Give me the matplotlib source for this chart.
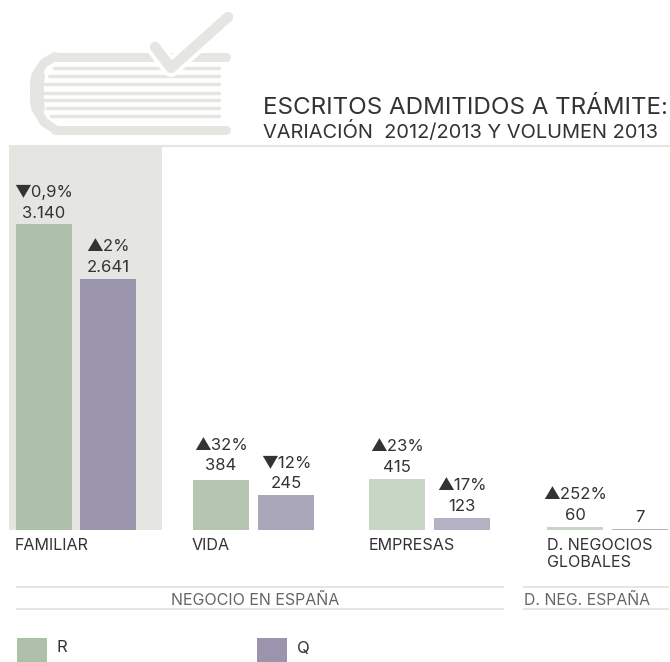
import matplotlib
matplotlib.use("Agg")
import matplotlib.pyplot as plt
from matplotlib.patches import Rectangle

plt.rcParams['font.family'] = ['Inter', 'DejaVu Sans']

categorias = ["FAMILIAR", "VIDA", "EMPRESAS", "D. NEGOCIOS\nGLOBALES"]
r_valores = ["3.140", "384", "415", "60"]
q_valores = ["2.641", "245", "123", "7"]
r_variacion = ["▼0,9%", "▲32%", "▲23%", "▲252%"]
q_variacion = ["▲2%", "▼12%", "▲17%", ""]
# alturas: el grafico original no es lineal con las etiquetas
r_alturas = [306, 50, 51, 3]
q_alturas = [251, 35, 12, 1]
r_colores = ["#aebfaa", "#b6c5b0", "#c6d5c4", "#c6d5c4"]
q_colores = ["#9a95ac", "#aba7bb", "#b6b2c6", "#b6b2c6"]

texto = "#333333"
gris = "#e5e6e1"
ancho = 56
x_r = [44, 221, 397, 575]
x_q = [108, 286, 462, 640]
x_cat = [15, 192, 369, 547]
# ajuste de etiquetas, en la imagen no estan todas a la misma distancia
r_ajuste = [-1, 2.5, 0, 0]
q_ajuste = [0, 0, 0, 0]

fig = plt.figure(figsize=(6.7, 6.62), dpi=100)

# capa en pixeles para icono, titulo y leyenda
bg = fig.add_axes([0, 0, 1, 1])
bg.set_xlim(0, 670)
bg.set_ylim(662, 0)
bg.axis("off")

# icono del libro
bg.plot([226, 55], [56.5, 56.5], color=gris, lw=6.5, solid_capstyle="round")
bg.plot([226, 55], [129.5, 129.5], color=gris, lw=6.5, solid_capstyle="round")
bg.plot([55, 44, 38, 34.5, 34.5, 38, 44, 55], [56.5, 63, 72, 84, 100, 112, 122, 129.5], color=gris, lw=6.5,
        solid_capstyle="round", solid_joinstyle="round")
bg.plot([38, 37, 37, 38], [76, 84, 100, 108], color=gris, lw=10, solid_capstyle="round")
for yl, xl in zip([68, 76, 84, 92.5, 100, 108, 116], [54, 49, 45, 44, 45, 47, 51]):
    bg.plot([xl, 219], [yl, yl], color=gris, lw=2.4, solid_capstyle="round")
bg.plot([155, 171, 228], [47, 68, 17], color="white", lw=13, solid_capstyle="round", solid_joinstyle="round")
bg.plot([155, 171, 228], [47, 68, 17], color=gris, lw=7.5, solid_capstyle="round", solid_joinstyle="round")

# titulo
bg.text(263, 108, "ESCRITOS ADMITIDOS A TRÁMITE:", fontsize=17.4, color=texto, va="center")
bg.text(263, 131, "VARIACIÓN  2012/2013 Y VOLUMEN 2013", fontsize=14.4, color=texto, va="center")
bg.plot([162, 670], [146, 146], color=gris, lw=1.6)

# panel gris de FAMILIAR
bg.add_patch(Rectangle((9, 145), 153, 385, color=gris, lw=0))

# barras
ax = fig.add_axes([0, (662 - 530) / 662, 1, 530 / 662])
ax.set_xlim(0, 670)
ax.set_ylim(0, 530)
ax.axis("off")
ax.patch.set_alpha(0)
ax.bar(x_r, r_alturas, width=ancho, color=r_colores)
ax.bar(x_q, q_alturas, width=ancho, color=q_colores)

for xs, alts, vals, varis, aj in [(x_r, r_alturas, r_valores, r_variacion, r_ajuste),
                                  (x_q, q_alturas, q_valores, q_variacion, q_ajuste)]:
    for x, h, v, p, a in zip(xs, alts, vals, varis, aj):
        ax.text(x, h + 11.5 + a, v, ha="center", va="center", fontsize=12, color=texto)
        ax.text(x, h + 32.5 + a, p, ha="center", va="center", fontsize=12, color=texto)

# categorias
for x, c in zip(x_cat, categorias):
    bg.text(x, 538, c, ha="left", va="top", fontsize=11.6, color=texto, linespacing=1.2)

# grupos
for x0, x1 in [(17, 503), (524, 668)]:
    bg.plot([x0, x1], [587, 587], color=gris, lw=1.4)
    bg.plot([x0, x1], [609, 609], color=gris, lw=1.4)
bg.text(255, 600, "NEGOCIO EN ESPAÑA", ha="center", va="center", fontsize=11.5, color="#666666")
bg.text(524, 600, "D. NEG. ESPAÑA", ha="left", va="center", fontsize=11.4, color="#666666")

# leyenda
bg.add_patch(Rectangle((17, 638), 30, 24, color="#aebfaa", lw=0))
bg.text(56, 648, "R", va="center", fontsize=12, color=texto)
bg.add_patch(Rectangle((257, 638), 30, 24, color="#9a95ac", lw=0))
bg.text(297, 648, "Q", va="center", fontsize=12, color=texto)

fig.savefig("out.png", dpi=100)
